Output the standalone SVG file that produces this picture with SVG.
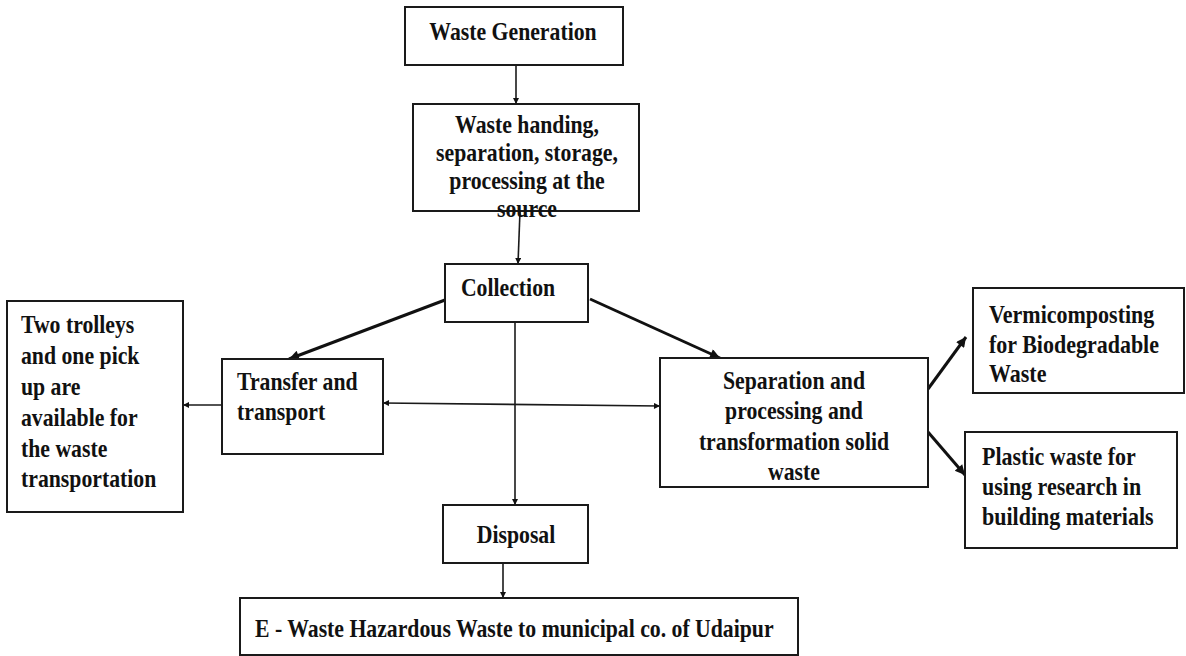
<svg xmlns="http://www.w3.org/2000/svg" width="1186" height="656" viewBox="0 0 1186 656">
<style>
.box{fill:#fff;stroke:#1a1a1a;stroke-width:2}
.t{font-weight:bold;font-size:25px;fill:#111}
.c{text-anchor:middle}
.ln{fill:none;stroke:#1a1a1a;stroke-width:1.6}
.tk{fill:none;stroke:#111;stroke-width:3}
</style>
<defs>
<marker id="a" viewBox="0 0 10 10" refX="10" refY="5" markerUnits="userSpaceOnUse" markerWidth="9" markerHeight="6" orient="auto-start-reverse"><path d="M0,0 L10,5 L0,10 z" fill="#111"/></marker>
<marker id="b" viewBox="0 0 10 10" refX="10" refY="5" markerUnits="userSpaceOnUse" markerWidth="14" markerHeight="10" orient="auto"><path d="M0,0 L10,5 L0,10 z" fill="#111"/></marker>
</defs>
<rect width="1186" height="656" fill="#fff"/>
<g id="connectors">
<line class="ln" x1="516" y1="65" x2="516" y2="104" marker-end="url(#a)"/>
<line class="ln" x1="520" y1="211" x2="518" y2="264" marker-end="url(#a)"/>
<line class="ln" x1="515" y1="322" x2="515" y2="505" marker-end="url(#a)"/>
<line class="tk" x1="445" y1="300" x2="289" y2="359" marker-end="url(#b)"/>
<line class="tk" x1="590" y1="299" x2="720" y2="358" marker-end="url(#b)"/>
<line class="ln" x1="222" y1="405" x2="183" y2="405" marker-end="url(#a)"/>
<line class="ln" x1="383" y1="403" x2="660" y2="406" marker-start="url(#a)" marker-end="url(#a)"/>
<line class="tk" x1="928" y1="389" x2="966" y2="337" marker-end="url(#b)"/>
<line class="tk" x1="928" y1="432" x2="965" y2="475" marker-end="url(#b)"/>
<line class="ln" x1="503" y1="563" x2="503" y2="598" marker-end="url(#a)"/>
</g>
<g font-family="Liberation Serif, Times New Roman, serif">
<g id="gen">
<rect class="box" x="405" y="7" width="218" height="58"/>
<g transform="translate(513,0) scale(0.87,1)"><text class="t c" x="0" y="40">Waste Generation</text></g>
</g>
<g id="handing">
<rect class="box" x="413" y="104" width="226" height="107"/>
<g transform="translate(527,0) scale(0.87,1)"><text class="t c" x="0" y="133">Waste handing,<tspan x="0" y="161">separation, storage,</tspan><tspan x="0" y="189">processing at the</tspan><tspan x="0" y="217">source</tspan></text></g>
</g>
<g id="collection">
<rect class="box" x="445" y="264" width="143" height="58"/>
<g transform="translate(508,0) scale(0.87,1)"><text class="t c" x="0" y="296">Collection</text></g>
</g>
<g id="transfer">
<rect class="box" x="222" y="359" width="161" height="95"/>
<g transform="translate(237,0) scale(0.87,1)"><text class="t" x="0" y="390">Transfer and<tspan x="0" y="420">transport</tspan></text></g>
</g>
<g id="trolleys">
<rect class="box" x="7" y="301" width="176" height="211"/>
<g transform="translate(21,0) scale(0.87,1)"><text class="t" x="0" y="333">Two trolleys<tspan x="0" y="364">and one pick</tspan><tspan x="0" y="395">up are</tspan><tspan x="0" y="426">available for</tspan><tspan x="0" y="457">the waste</tspan><tspan x="0" y="487">transportation</tspan></text></g>
</g>
<g id="separation">
<rect class="box" x="660" y="358" width="268" height="129"/>
<g transform="translate(794,0) scale(0.87,1)"><text class="t c" x="0" y="389">Separation and<tspan x="0" y="419">processing and</tspan><tspan x="0" y="450">transformation solid</tspan><tspan x="0" y="480">waste</tspan></text></g>
</g>
<g id="vermi">
<rect class="box" x="973" y="288" width="211" height="105"/>
<g transform="translate(989,0) scale(0.88,1)"><text class="t" x="0" y="323">Vermicomposting<tspan x="0" y="353">for Biodegradable</tspan><tspan x="0" y="382">Waste</tspan></text></g>
</g>
<g id="plastic">
<rect class="box" x="965" y="432" width="212" height="116"/>
<g transform="translate(982,0) scale(0.88,1)"><text class="t" x="0" y="465">Plastic waste for<tspan x="0" y="495">using research in</tspan><tspan x="0" y="525">building materials</tspan></text></g>
</g>
<g id="disposal">
<rect class="box" x="443" y="505" width="145" height="58"/>
<g transform="translate(516,0) scale(0.87,1)"><text class="t c" x="0" y="543">Disposal</text></g>
</g>
<g id="ewaste">
<rect class="box" x="240" y="598" width="558" height="57"/>
<g transform="translate(255,0) scale(0.87,1)"><text class="t" x="0" y="637">E - Waste Hazardous Waste to municipal co. of Udaipur</text></g>
</g>
</g>
</svg>
